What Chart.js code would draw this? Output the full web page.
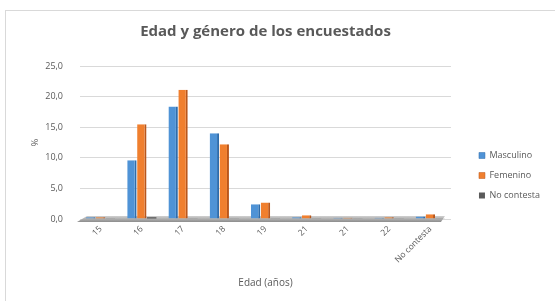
<!DOCTYPE html>
<html>
<head>
<meta charset="utf-8">
<script src="https://cdn.jsdelivr.net/npm/chart.js@4/dist/chart.umd.min.js"></script>
<style>
  body { margin: 0; background: #fff; }
  #frame { position: absolute; left: 5px; top: 10px; width: 560px; height: 300px; border-left: 1px solid #d9d9d9; border-top: 1px solid #d9d9d9; }
  #wrap { position: absolute; left: 0; top: 0; width: 555px; height: 301px; }
</style>
</head>
<body>
<div id="frame"></div>
<div id="wrap"><canvas id="edadChart"></canvas></div>
<script>
const edades = ["15", "16", "17", "18", "19", "21", "21", "22", "No contesta"];
const masculino = [0.3, 9.6, 18.4, 14.0, 2.4, 0.3, 0.2, 0.2, 0.4];
const femenino = [0.3, 15.5, 21.1, 12.2, 2.7, 0.6, 0.2, 0.3, 0.8];
const noContesta = [0.1, 0.3, 0.1, 0.1, 0.1, 0.1, 0.1, 0.1, 0.1];

const gris = "#595959";

// suelo gris debajo de las barras (efecto 3D)
const floorPlugin = {
    id: "floor",
    beforeDatasetsDraw(chart) {
        const a = chart.chartArea;
        const ctx = chart.ctx;
        ctx.save();
        const g = ctx.createLinearGradient(0, a.bottom - 3, 0, a.bottom + 3);
        g.addColorStop(0, "#d0d0d0");
        g.addColorStop(1, "#8c8c8c");
        ctx.fillStyle = g;
        ctx.beginPath();
        ctx.moveTo(a.left - 3, a.bottom + 3);
        ctx.lineTo(a.right - 10, a.bottom + 3);
        ctx.lineTo(a.right - 6, a.bottom - 3);
        ctx.lineTo(a.left + 7, a.bottom - 3);
        ctx.closePath();
        ctx.fill();
        ctx.restore();
    }
};

// mueve la leyenda a la derecha y hacia abajo, como en el original
const legendShiftX = 17;
const legendShiftY = 24;
const legendPlugin = {
    id: "legendShift",
    afterInit(chart) {
        const lg = chart.legend;
        const fit = lg.fit;
        lg.fit = function () { fit.call(this); this.width += legendShiftX; };
    },
    afterLayout(chart) {
        const lg = chart.legend;
        lg.left += legendShiftX;
        lg.top += legendShiftY;
        lg.bottom += legendShiftY;
    }
};

new Chart("edadChart", {
    type: "bar",
    data: {
        labels: edades,
        datasets: [
            { label: "Masculino", data: masculino, backgroundColor: "#4f93d6", borderColor: "#2e6cab", borderWidth: {right: 2}, borderSkipped: "bottom" },
            { label: "Femenino", data: femenino, backgroundColor: "#f07f2e", borderColor: "#b9561b", borderWidth: {right: 2}, borderSkipped: "bottom" },
            { label: "No contesta", data: noContesta, backgroundColor: "#5a5a5a", borderWidth: 0 }
        ]
    },
    plugins: [floorPlugin, legendPlugin],
    options: {
        responsive: true,
        maintainAspectRatio: false,
        animation: false,
        layout: { padding: { left: 26, right: 5, top: 10, bottom: 8 } },
        datasets: { bar: { categoryPercentage: 0.72, barPercentage: 0.95 } },
        plugins: {
            title: {
                display: true,
                fullSize: false,
                text: "Edad y género de los encuestados",
                color: gris,
                font: { family: "Open Sans", size: 15, weight: "bold" },
                padding: { top: 13, bottom: 25 }
            },
            legend: {
                position: "right",
                align: "center",
                labels: {
                    color: gris,
                    boxWidth: 6,
                    boxHeight: 6,
                    padding: 11,
                    font: { family: "Open Sans", size: 9 }
                }
            },
            tooltip: { enabled: false }
        },
        scales: {
            x: {
                grid: { display: false, drawTicks: false },
                border: { display: false },
                ticks: {
                    color: gris,
                    minRotation: 45,
                    maxRotation: 45,
                    padding: 5,
                    font: { family: "Open Sans", size: 8.5 }
                },
                title: {
                    display: true,
                    text: "Edad (años)",
                    color: gris,
                    font: { family: "Open Sans", size: 10 },
                    padding: { top: 7, bottom: 4 }
                }
            },
            y: {
                min: 0,
                max: 25,
                border: { display: false },
                grid: { color: "#d9d9d9", drawTicks: false },
                afterFit(scale) { scale.width = 54; },
                ticks: {
                    stepSize: 5,
                    color: gris,
                    padding: 17,
                    font: { family: "Open Sans", size: 9 },
                    callback: v => v.toFixed(1).replace(".", ",")
                },
                title: {
                    display: true,
                    text: "%",
                    color: gris,
                    font: { family: "Open Sans", size: 9 },
                    padding: 4
                }
            }
        }
    }
});
</script>
</body>
</html>
